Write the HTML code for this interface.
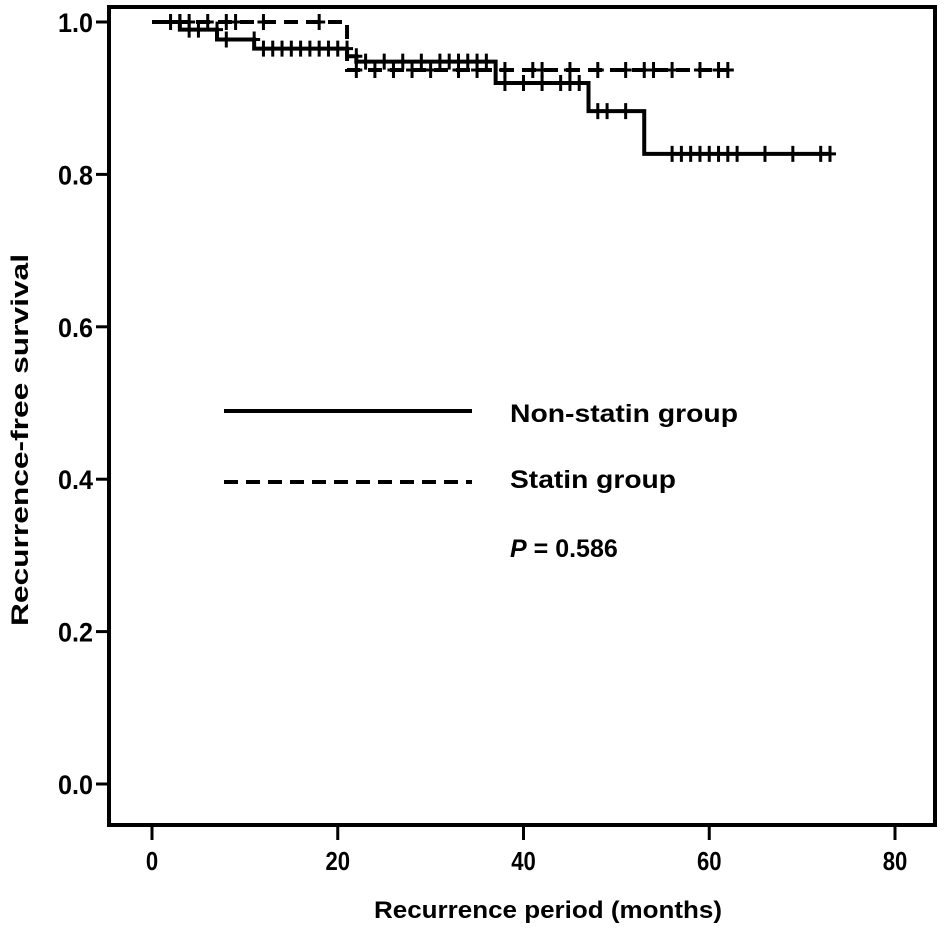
<!DOCTYPE html>
<html><head><meta charset="utf-8"><style>
body{margin:0;background:#fff;}
svg text{font-family:"Liberation Sans",Arial,sans-serif;font-weight:bold;fill:#000;}
</style></head><body>
<svg id="chart" width="945" height="931" viewBox="0 0 945 931" xmlns="http://www.w3.org/2000/svg">
<rect x="109" y="7" width="826" height="818" fill="none" stroke="#000" stroke-width="4"/>
<g id="axes"></g>
<g id="marks"></g>
<g>
<line x1="224" y1="411" x2="472" y2="411" stroke="#000" stroke-width="4"/>
<text x="510" y="422" font-size="25" textLength="228" lengthAdjust="spacingAndGlyphs">Non-statin group</text>
<line x1="224" y1="482" x2="472" y2="482" stroke="#000" stroke-width="4" stroke-dasharray="14,8"/>
<text x="510" y="488" font-size="25" textLength="166" lengthAdjust="spacingAndGlyphs">Statin group</text>
<text x="510" y="557" font-size="25"><tspan font-style="italic">P</tspan> = <tspan font-weight="bold">0.586</tspan></text>
</g>
<text x="548" y="918" font-size="24" text-anchor="middle" textLength="348" lengthAdjust="spacingAndGlyphs">Recurrence period (months)</text>
<text transform="translate(28,440) rotate(-90)" font-size="24" text-anchor="middle" textLength="372" lengthAdjust="spacingAndGlyphs">Recurrence-free survival</text>
</svg>
<script>
const xTicks=[0,20,40,60,80];
const yTicks=[0.0,0.2,0.4,0.6,0.8,1.0];
const yTickLabels=["0.0","0.2","0.4","0.6","0.8","1.0"];
const nonStatinTimes=[0,3,7,11,21,22,37,47,53,73];
const nonStatinSurv=[1.0,0.99,0.977,0.965,0.955,0.948,0.92,0.883,0.827,0.827];
const nonStatinCensor=[2,3,4,5,7,8,11,12,13,14,15,16,17,18,19,20,21,22,23,25,27,29,31,32,33,34,35,36,38,40,42,44,45,46,48,49,51,56,57,58,59,60,61,62,63,66,69,72,73];
const statinTimes=[0,21,62];
const statinSurv=[1.0,0.937,0.937];
const statinCensor=[3,4,6,8,9,12,18,22,24,26,28,30,33,35,38,41,42,45,48,51,53,54,56,59,61,62];
const NS="http://www.w3.org/2000/svg";
const sx=m=>152+m*9.2875;
const sy=s=>784-s*762;
const axes=document.getElementById('axes'),marks=document.getElementById('marks');
function mk(tag,attrs,parent){const e=document.createElementNS(NS,tag);for(const k in attrs)e.setAttribute(k,attrs[k]);parent.appendChild(e);return e;}
xTicks.forEach(t=>{
 const l=mk('line',{x1:sx(t),x2:sx(t),y1:827,y2:840,stroke:'#000','stroke-width':3},axes);
 
 
 const tx=mk('text',{x:sx(t),y:870,'font-size':26,'text-anchor':'middle',transform:`translate(${sx(t)},0) scale(0.85,1) translate(${-sx(t)},0)`},axes);tx.textContent=t;
 
 
});
yTicks.forEach((t,i)=>{
 const l=mk('line',{x1:96,x2:108,y1:sy(t),y2:sy(t),stroke:'#000','stroke-width':3},axes);
 
 
 const tx=mk('text',{x:93,y:sy(t)+10,'font-size':27,'text-anchor':'end',textLength:35,lengthAdjust:'spacingAndGlyphs'},axes);tx.textContent=yTickLabels[i];
 
 
});
function stepPath(times,surv){let d='M'+sx(times[0])+','+sy(surv[0]);for(let i=1;i<times.length;i++){d+=' H'+sx(times[i])+' V'+sy(surv[i]);}return d;}
function survAt(times,surv,t){let s=surv[0];for(let i=0;i<times.length;i++){if(times[i]<=t)s=surv[i];}return s;}
const p1=mk('path',{d:stepPath(statinTimes,statinSurv),fill:'none',stroke:'#000','stroke-width':4,'stroke-dasharray':'14,8'},marks);


const p2=mk('path',{d:stepPath(nonStatinTimes,nonStatinSurv),fill:'none',stroke:'#000','stroke-width':4},marks);


function censors(list,times,surv,name){list.forEach(t=>{const x=sx(t),y=sy(survAt(times,surv,t-0.01));
 const c=mk('path',{d:`M${x},${y-8} V${y+8} M${x-6},${y} H${x+6}`,stroke:'#000','stroke-width':3},marks);
 
 
});}
censors(statinCensor,statinTimes,statinSurv,'statin-censor-mark');
censors(nonStatinCensor,nonStatinTimes,nonStatinSurv,'non-statin-censor-mark');
</script>
</body></html>
